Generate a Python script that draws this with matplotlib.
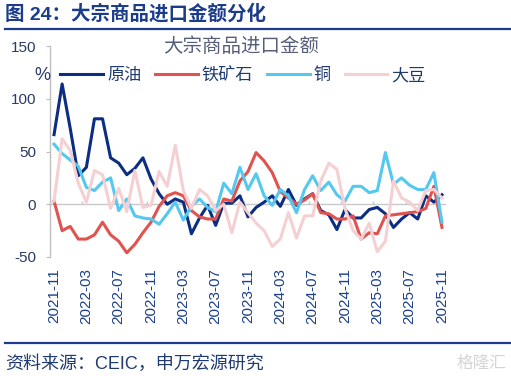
import numpy as np
import pandas as pd
import matplotlib
matplotlib.use("Agg")
import matplotlib.pyplot as plt
from matplotlib.lines import Line2D

plt.rcParams['font.family'] = ['Liberation Sans', 'Noto Sans CJK SC', 'DejaVu Sans']

# monthly YoY of import value, %
months = pd.period_range('2021-11', '2025-11', freq='M').strftime('%Y-%m').tolist()

crude_oil = [66, 114, 72, 27, 35, 81, 81, 44, 39, 28, 34, 44, 24, 10, 0, 5, 2, -28, -13, -1,
             -20, 1, 1, 8, -12, -3, 2, 8, -2, 14, -1, 5, 10, -6, -10, -24, -5, -13, -13, -5,
             -3, -9, -22, -14, -8, -14, 8, 2, 9]
iron_ore = [3, -25, -21, -33, -33, -29, -17, -29, -35, -46, -38, -27, -17, -2, 8, 11, 8, -6, -12, -14,
            -14, 5, 3, 22, 31, 49, 41, 30, 12, 6, 0, 4, 10, -8, -9, -14, -14, -11, -33, -27,
            -28, -11, -10, -9, -8, -7, -4, 17, -22]
copper = [57, 48, 42, 36, 16, 13, 21, 25, -6, 5, -11, -13, -14, -19, -9, 2, -15, -2, 5, -3,
          -7, 20, 10, 35, 14, 29, 8, -1, 14, 8, -8, 14, 27, 13, 21, 9, 3, 17, 17, 11,
          13, 49, 19, 25, 18, 14, 14, 30, -17]
soybean = [3, 62, 51, 20, 2, 32, 28, -4, 15, -7, 32, -3, -1, 31, 17, 56, 13, -4, 14, 8,
           -6, 0, -27, 2, -8, -18, -25, -40, -33, -8, -32, -11, -11, 22, 39, 33, -4, -25, -33, -18,
           -45, -35, 22, 6, 2, -6, 13, 14, 6]

series_names = ['原油', '铁矿石', '铜', '大豆']
series_colors = ['#0B2D82', '#E0534F', '#55C8F0', '#F5D0D3']
tick_labels = months[::4]
y_ticks = [-50, 0, 50, 100, 150]

navy = '#1B3B8B'
text_c = '#2B3A67'

W, H = 511, 376
fig = plt.figure(figsize=(W / 100, H / 100), dpi=100)
ax = fig.add_axes([50 / W, (H - 257) / H, 396 / W, 211 / H])

x = np.arange(len(months))
ax.axhline(0, color='#C8C8C8', lw=1, zorder=1)
ax.vlines(np.arange(-0.5, len(months), 4), 0, 3, color='#C8C8C8', lw=1, zorder=1)

handles = []
for vals, name, col in zip([crude_oil, iron_ore, copper, soybean], series_names, series_colors):
    ln, = ax.plot(x, vals, color=col, lw=2.2, label=name, zorder=3)
    handles.append(ln)

ax.set_xlim(-0.5, len(months) - 0.5)
ax.set_ylim(-50, 150)
ax.set_yticks(y_ticks)
ax.set_yticklabels([str(v) for v in y_ticks])
ax.set_xticks(x[::4])
ax.set_xticklabels(tick_labels, rotation=90)
ax.tick_params(axis='x', length=0, pad=8, labelsize=11, labelcolor='#1B3F8B')
ax.tick_params(axis='y', length=3, width=0.8, color='#BFBFBF', pad=7, labelsize=11, labelcolor=text_c)
for s in ['top', 'right', 'bottom']:
    ax.spines[s].set_visible(False)
ax.spines['left'].set_color('#BFBFBF')
ax.spines['left'].set_linewidth(1)

fig.legend(handles, series_names, loc='center left', bbox_to_anchor=(60 / W, (H - 75) / H),
           ncol=4, frameon=False, handlelength=2.5, handletextpad=0.25, columnspacing=0.8,
           borderpad=0, borderaxespad=0, fontsize=12.3, labelcolor='#1F3A6E')

fig.text(241 / W, (H - 47) / H, '大宗商品进口金额', ha='center', va='center', fontsize=14, color='#555F7A')
fig.text(42.5 / W, (H - 75.5) / H, '%', ha='center', va='center', fontsize=13, color=text_c)

fig.text(5 / W, (H - 14) / H, '图 24：大宗商品进口金额分化', ha='left', va='center',
         fontsize=14, fontweight='bold', color=navy)
fig.add_artist(Line2D([5 / W, 1], [(H - 29) / H] * 2, color=navy, lw=1.6))
fig.add_artist(Line2D([5 / W, 1], [(H - 343) / H] * 2, color=navy, lw=1.6))
fig.text(5 / W, (H - 363.5) / H, '资料来源：CEIC，申万宏源研究', ha='left', va='center',
         fontsize=13, color='#1F3A6E')
fig.text(481 / W, (H - 363) / H, '格隆汇', ha='center', va='center', fontsize=12, color='#D5D5D5')

fig.savefig('out.png', dpi=100)
